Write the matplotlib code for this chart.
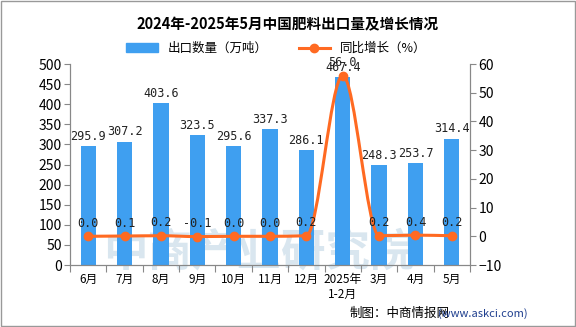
import numpy as np
import matplotlib
matplotlib.use("Agg")
import matplotlib.pyplot as plt
from matplotlib.path import Path
from matplotlib.patches import PathPatch, Rectangle
from matplotlib.lines import Line2D

plt.rcParams['font.family'] = ['Noto Sans CJK SC', 'DejaVu Sans']

# data
months = ["6月", "7月", "8月", "9月", "10月", "11月", "12月", "2025年\n1-2月", "3月", "4月", "5月"]
export_qty = [295.9, 307.2, 403.6, 323.5, 295.6, 337.3, 286.1, 467.4, 248.3, 253.7, 314.4]
yoy_growth = [0.0, 0.1, 0.2, -0.1, 0.0, 0.0, 0.2, 56.0, 0.2, 0.4, 0.2]

bar_color = "#3f9ff0"
line_color = "#ff6a22"

fig = plt.figure(figsize=(5.76, 3.27), dpi=100)
ax = fig.add_axes([0.1215, 0.1896, 0.6945, 0.6144])
ax2 = ax.twinx()

# watermark, behind the bars
ax.text(0.45, 0.228, "中商产业研究院", fontsize=32, color="#d9e6ef",
        ha="center", va="center", weight="bold", zorder=1,
        transform=fig.transFigure, clip_on=False)

x = np.arange(len(months))
ax.bar(x, export_qty, width=0.42, color=bar_color, zorder=2)
ax.set_xlim(-0.5, len(months) - 0.5)
ax.set_ylim(0, 500)
ax.set_yticks(np.arange(0, 501, 50))
ax.set_xticks(np.arange(-0.5, len(months), 1))
ax.set_xticklabels([])
ax.set_xticks(x, minor=True)
ax.set_xticklabels(months, minor=True, fontsize=8.5)
ax.tick_params(axis='x', which='major', length=5, color="#888888")
ax.tick_params(axis='x', which='minor', length=0, pad=6)
ax.tick_params(axis='y', labelsize=10, length=4, color="#888888", pad=2)
for sp in ["top"]:
    ax.spines[sp].set_visible(False)
    ax2.spines[sp].set_visible(False)
for sp in ["left", "bottom", "right"]:
    ax.spines[sp].set_color("#888888")
    ax2.spines[sp].set_color("#888888")

for xi, v in zip(x, export_qty):
    ax.text(xi, v + 8, f"{v:.1f}", ha="center", va="bottom", fontsize=8.5,
            family="DejaVu Sans Mono", color="#222222", zorder=5)

# smooth line: monotone cubic Hermite drawn as Bezier path
ax2.set_ylim(-10, 60)
ax2.set_yticks(np.arange(-10, 61, 10))
ax2.tick_params(axis='y', labelsize=10, length=4, color="#888888", pad=2)
xs = x.astype(float)
ys = np.array(yoy_growth, dtype=float)
d = np.diff(ys)
m = np.zeros_like(ys)
m[0], m[-1] = d[0], d[-1]
for i in range(1, len(ys) - 1):
    if d[i - 1] * d[i] > 0:
        m[i] = 2.0 / (1.0 / d[i - 1] + 1.0 / d[i])
verts = [(xs[0], ys[0])]
codes = [Path.MOVETO]
for i in range(len(xs) - 1):
    verts += [(xs[i] + 1 / 3, ys[i] + m[i] / 3),
              (xs[i + 1] - 1 / 3, ys[i + 1] - m[i + 1] / 3),
              (xs[i + 1], ys[i + 1])]
    codes += [Path.CURVE4] * 3
ax2.add_patch(PathPatch(Path(verts, codes), facecolor="none", edgecolor=line_color, lw=2.2, zorder=3))
ax2.plot(x, yoy_growth, "o", color=line_color, ms=6, zorder=4)
for xi, v in zip(x, yoy_growth):
    ax2.text(xi, v + 2.2, f"{v:.1f}", ha="center", va="bottom", fontsize=8.5,
             family="DejaVu Sans Mono", color="#222222", zorder=5)

# title and legend
fig.text(0.5, 0.925, "2024年-2025年5月中国肥料出口量及增长情况", ha="center", va="center",
         fontsize=10.5, weight="bold")
handles = [Rectangle((0, 0), 1, 1, color=bar_color),
           Line2D([0], [0], color=line_color, lw=2.2, marker="o", ms=6)]
fig.legend(handles, ["出口数量（万吨）", "同比增长（%）"], loc="center", bbox_to_anchor=(0.48, 0.852),
           ncol=2, frameon=False, fontsize=9, handlelength=2.5, columnspacing=2.5)

fig.text(0.607, 0.042, "制图：中商情报网", ha="left", va="center", fontsize=9)
fig.text(0.76, 0.042, "(www.askci.com)", ha="left", va="center", fontsize=8, color="#1f3f8f")

fig.add_artist(Rectangle((0.002, 0.003), 0.996, 0.994, transform=fig.transFigure,
                         fill=False, edgecolor="#999999", lw=1))

fig.savefig("out.png", dpi=100)
